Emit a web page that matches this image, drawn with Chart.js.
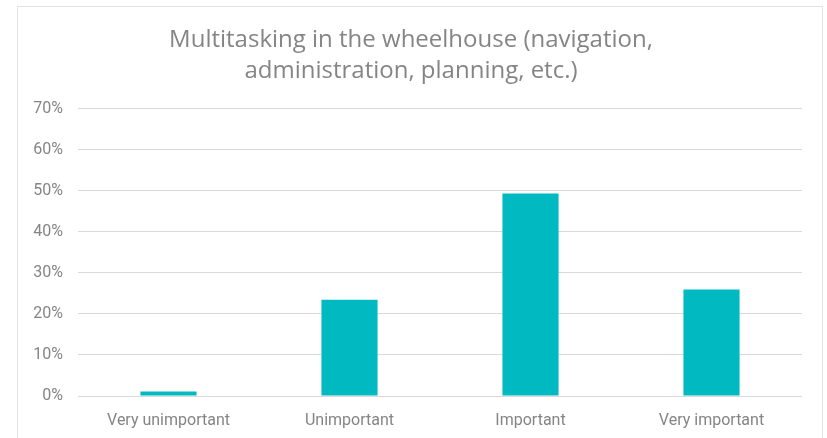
<!DOCTYPE html>
<html>
<head>
<meta charset="utf-8">
<script src="https://cdn.jsdelivr.net/npm/chart.js@4"></script>
<style>
  html, body { margin: 0; padding: 0; background: #fff; overflow: hidden; }
  #frame {
    position: absolute; left: 17px; top: 6px; width: 806px; height: 460px;
    border: 1px solid #e3e3e3; box-sizing: border-box;
  }
  #chart { position: absolute; left: 0; top: 0; }
</style>
</head>
<body>
<div id="frame"></div>
<canvas id="chart" width="827" height="438"></canvas>
<script>
const titleLines = ['Multitasking in the wheelhouse (navigation,', 'administration, planning, etc.)'];
const categories = ['Very unimportant', 'Unimportant', 'Important', 'Very important'];
const shares = [1.1, 23.5, 49.4, 26.0];
const yTicks = [0, 10, 20, 30, 40, 50, 60, 70];

const gray = '#858585';
const titleFace = "'Open Sans', Roboto, sans-serif";
const tickFace = "Roboto, 'Liberation Sans', sans-serif";

const ctx = document.getElementById('chart').getContext('2d');

new Chart(ctx, {
  type: 'bar',
  data: {
    labels: categories,
    datasets: [
      {
        data: shares,
        backgroundColor: '#00b9c1',
        borderWidth: 0,
        categoryPercentage: 1,
        barPercentage: 0.31,
      },
    ],
  },
  options: {
    responsive: false,
    animation: false,
    layout: { padding: { top: 25, left: 20, right: 25, bottom: 7 } },
    plugins: {
      legend: { display: false },
      tooltip: { enabled: false },
      title: {
        display: true,
        text: titleLines,
        color: gray,
        font: { family: titleFace, size: 24, weight: 'normal', lineHeight: 1.27 },
        padding: { top: 0, bottom: 23 },
      },
    },
    scales: {
      x: {
        afterFit(scale) { scale.height = 35; },
        grid: { display: false, drawTicks: false },
        border: { display: false },
        ticks: {
          color: gray,
          font: { family: tickFace, size: 16 },
          padding: 15,
        },
      },
      y: {
        min: yTicks[0],
        max: yTicks[yTicks.length - 1],
        afterFit(scale) { scale.width = 58; },
        afterBuildTicks(scale) { scale.ticks = yTicks.map(v => ({ value: v })); },
        grid: { color: '#d9d9d9', lineWidth: 1, drawTicks: false },
        border: { display: false },
        ticks: {
          color: gray,
          font: { family: tickFace, size: 16 },
          padding: 15,
          callback: v => v + '%',
        },
      },
    },
  },
});
</script>
</body>
</html>
